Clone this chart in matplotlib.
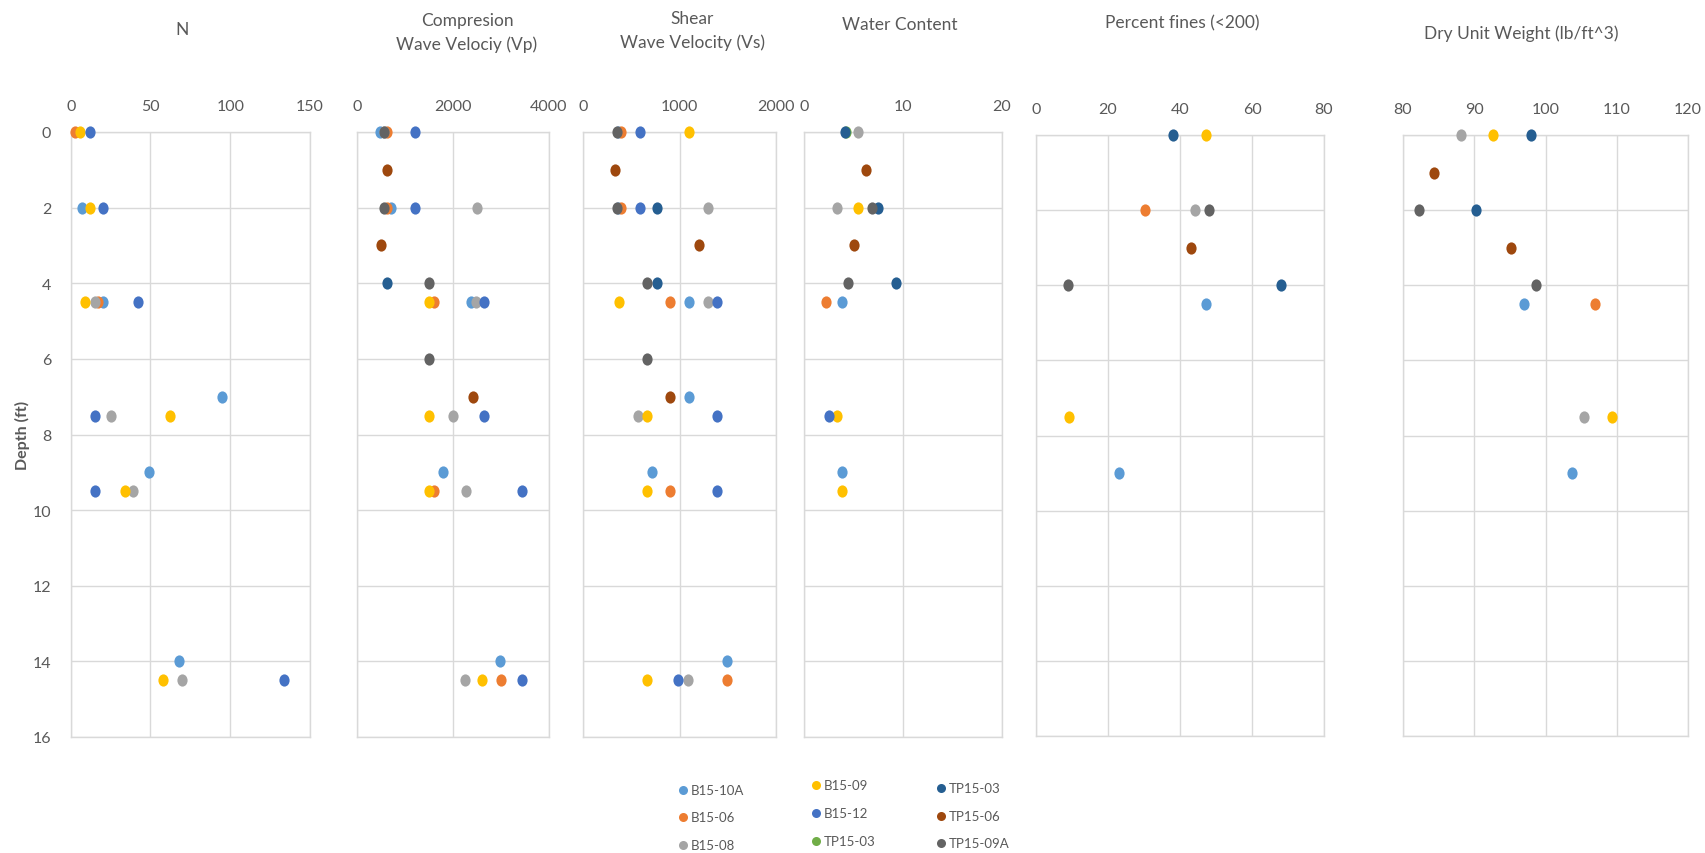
import matplotlib
matplotlib.use("Agg")
import matplotlib.pyplot as plt
from matplotlib.path import Path
from matplotlib.lines import Line2D

plt.rcParams["font.family"] = ["Lato", "DejaVu Sans"]

# ---- series (boreholes / test pits) ----
SERIES = ["B15-10A", "B15-06", "B15-08", "B15-09", "B15-12",
          "TP15-03#1", "TP15-03#2", "TP15-06", "TP15-09A"]
LABELS = ["B15-10A", "B15-06", "B15-08", "B15-09", "B15-12",
          "TP15-03", "TP15-03", "TP15-06", "TP15-09A"]
COLORS = ["#5B9BD5", "#ED7D31", "#A5A5A5", "#FFC000", "#4472C4",
          "#70AD47", "#255E91", "#9E480E", "#636363"]

# ---- data: {series: (depths ft, values)} ----
N_DATA = {
    "B15-10A": ([2, 4.5, 7, 9, 14], [7, 20, 95, 49, 68]),
    "B15-06": ([0, 4.5], [3, 17]),
    "B15-08": ([4.5, 7.5, 9.5, 14.5], [15, 25, 39, 70]),
    "B15-09": ([0, 2, 4.5, 7.5, 9.5, 14.5], [6, 12, 9, 62, 34, 58]),
    "B15-12": ([0, 2, 4.5, 7.5, 9.5, 14.5], [12, 20, 42, 15, 15, 134]),
}
VP_DATA = {
    "B15-10A": ([0, 2, 4.5, 9, 14], [480, 700, 2380, 1790, 2970]),
    "B15-06": ([0, 2, 4.5, 9.5, 14.5], [620, 620, 1610, 1610, 2990]),
    "B15-08": ([0, 2, 4.5, 7.5, 9.5, 14.5], [560, 2500, 2480, 2000, 2270, 2260]),
    "B15-09": ([4.5, 7.5, 9.5, 14.5], [1490, 1490, 1490, 2610]),
    "B15-12": ([0, 2, 4.5, 7.5, 9.5, 14.5], [1200, 1200, 2650, 2650, 3430, 3430]),
    "TP15-03#2": ([4], [620]),
    "TP15-06": ([1, 3, 7], [620, 510, 2410]),
    "TP15-09A": ([0, 2, 4, 6], [570, 570, 1490, 1490]),
}
VS_DATA = {
    "B15-10A": ([0, 2, 4.5, 7, 9, 14], [360, 360, 1100, 1100, 720, 1490]),
    "B15-06": ([0, 2, 4.5, 9.5, 14.5], [395, 395, 900, 900, 1490]),
    "B15-08": ([2, 4.5, 7.5, 14.5], [1300, 1300, 570, 1090]),
    "B15-09": ([0, 4.5, 7.5, 9.5, 14.5], [1100, 370, 660, 660, 660]),
    "B15-12": ([0, 2, 4.5, 7.5, 9.5, 14.5], [590, 590, 1390, 1390, 1390, 980]),
    "TP15-03#2": ([2, 4], [770, 770]),
    "TP15-06": ([1, 3, 7], [330, 1200, 900]),
    "TP15-09A": ([0, 2, 4, 6], [355, 355, 660, 660]),
}
WC_DATA = {
    "B15-10A": ([4.5, 9], [3.8, 3.8]),
    "B15-06": ([4.5], [2.2]),
    "B15-08": ([0, 2], [5.5, 3.3]),
    "B15-09": ([2, 7.5, 9.5], [5.5, 3.3, 3.8]),
    "B15-12": ([7.5], [2.5]),
    "TP15-03#1": ([0], [4.2]),
    "TP15-03#2": ([0, 2, 4], [4.1, 7.5, 9.3]),
    "TP15-06": ([1, 3], [6.3, 5.0]),
    "TP15-09A": ([2, 4], [6.9, 4.4]),
}
PF_DATA = {
    "B15-10A": ([4.5, 9], [47.2, 23.0]),
    "B15-06": ([2], [30.2]),
    "B15-08": ([2], [44.1]),
    "B15-09": ([0, 7.5], [47.1, 9.3]),
    "TP15-03#2": ([0, 4], [38.1, 68.1]),
    "TP15-06": ([3], [43.1]),
    "TP15-09A": ([2, 4], [48.1, 8.9]),
}
DW_DATA = {
    "B15-10A": ([4.5, 9], [97.0, 103.7]),
    "B15-06": ([4.5], [106.9]),
    "B15-08": ([0, 7.5], [88.2, 105.4]),
    "B15-09": ([0, 7.5], [92.7, 109.4]),
    "TP15-03#2": ([0, 2], [98.0, 90.3]),
    "TP15-06": ([1, 3], [84.3, 95.2]),
    "TP15-09A": ([2, 4], [82.3, 98.7]),
}

DEPTH_TICKS = [0, 2, 4, 6, 8, 10, 12, 14, 16]

PANELS = [
    # data, x ticks, title lines, box in px (left, right, top, bottom), title centre (x, y)
    (N_DATA, [0, 50, 100, 150], "N", (70.7, 310, 133, 738), (182, 30)),
    (VP_DATA, [0, 2000, 4000], "Compresion\nWave Velociy (Vp)", (357, 549, 133, 738), (467, 33)),
    (VS_DATA, [0, 1000, 2000], "Shear\nWave Velocity (Vs)", (583, 776, 133, 738), (692, 31)),
    (WC_DATA, [0, 10, 20], "Water Content", (804, 1002, 133, 738), (900, 25)),
    (PF_DATA, [0, 20, 40, 60, 80], "Percent fines (<200)", (1036, 1324, 136, 737), (1182, 23)),
    (DW_DATA, [80, 90, 100, 110, 120], "Dry Unit Weight (lb/ft^3)", (1403, 1688, 136, 737), (1521, 34)),
]

# legend layout: column marker x and row y per column, in px
LEG_COL_X = [683, 816, 941]
LEG_ROW_Y = [[791, 818, 846], [786, 814, 842], [789, 817, 844]]

W, H = 1705, 854
TXT = "#595959"
GRID = "#D9D9D9"

fig = plt.figure(figsize=(W / 100, H / 100), dpi=100)
fig.patch.set_facecolor("white")

# slightly tall elliptical dot marker
_c = Path.unit_circle()
DOT = Path(_c.vertices * [1.0, 1.2], _c.codes)

for i, (data, xt, title, (x0, x1, yt, yb), (tx, ty)) in enumerate(PANELS):
    ax = fig.add_axes([x0 / W, 1 - yb / H, (x1 - x0) / W, (yb - yt) / H])
    ax.set_xlim(xt[0], xt[-1])
    ax.set_ylim(DEPTH_TICKS[-1], DEPTH_TICKS[0])
    ax.set_xticks(xt)
    ax.set_yticks(DEPTH_TICKS)
    ax.xaxis.tick_top()
    ax.tick_params(length=0, labelsize=11.5, labelcolor=TXT, pad=14)
    ax.tick_params(axis="y", pad=14)
    if i != 0:
        ax.tick_params(axis="y", labelleft=False)
    ax.grid(True, color=GRID, linewidth=1.0)
    ax.set_axisbelow(True)
    for sp in ax.spines.values():
        sp.set_color(GRID)
        sp.set_linewidth(1.0)
    for key, color in zip(SERIES, COLORS):
        if key in data:
            d, v = data[key]
            ax.scatter(v, d, marker=DOT, s=8.8 ** 2, color=color,
                       linewidths=0, zorder=3, clip_on=False)
    if i == 0:
        ax.set_ylabel("Depth (ft)", fontsize=11.5, fontweight="bold",
                      color=TXT, labelpad=2)
    fig.text(tx / W, 1 - ty / H, title, ha="center", va="center",
             fontsize=12.5, color=TXT, linespacing=1.5)

# legend: three columns, filled column by column
for k, (label, color) in enumerate(zip(LABELS, COLORS)):
    col, row = divmod(k, 3)
    mx = LEG_COL_X[col] / W
    my = 1 - LEG_ROW_Y[col][row] / H
    fig.add_artist(Line2D([mx], [my], transform=fig.transFigure,
                          linestyle="none", marker="o", markersize=6.5,
                          markerfacecolor=color, markeredgewidth=0))
    fig.text(mx + 8 / W, my, label, ha="left", va="center",
             fontsize=9.5, color=TXT)

fig.savefig("out.png", dpi=100, facecolor="white")
